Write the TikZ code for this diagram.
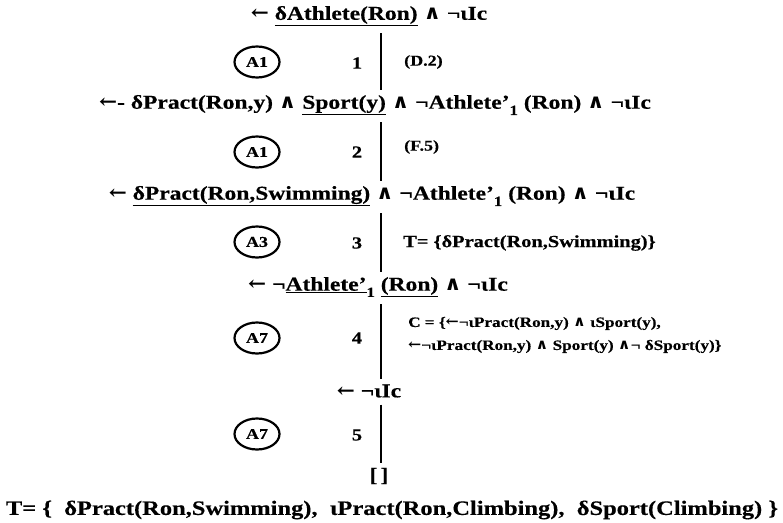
\documentclass[tikz,border=0pt]{standalone}
\usepackage{fontspec}
\setmainfont{Liberation Serif}[FakeStretch=1.2, BoldFeatures={FakeBold=0.4}]
\newfontfamily\symf{DejaVu Serif}[FakeStretch=1.1]
\usetikzlibrary{shapes.geometric}
\newcommand{\myarr}{{\symf ←}}
\newcommand{\myand}{{\symf ∧}}
\newcommand{\subone}{\raisebox{-0.7ex}{\fontsize{14}{14}\selectfont 1}}
\begin{document}
\begin{tikzpicture}[x=1pt,y=-1pt,
  mainline/.style={font=\fontsize{19.6}{23}\selectfont\bfseries, inner sep=1pt},
  rulelabel/.style={draw, ellipse, line width=2.2pt, minimum width=45pt, minimum height=31pt, inner sep=0pt, font=\fontsize{15}{17}\selectfont\bfseries},
  stepno/.style={font=\fontsize{17}{20}\selectfont\bfseries, inner sep=1pt},
  note/.style={font=\fontsize{15}{18}\selectfont\bfseries, anchor=west, inner sep=1pt},
  smallnote/.style={font=\fontsize{14.3}{23}\selectfont\bfseries, anchor=west, inner sep=1pt, align=left},
  bar/.style={line width=2.4pt, shorten <=6pt, shorten >=4pt}
]
\useasboundingbox (0,0) rectangle (783,522);
\coordinate (ax) at (381,0);

\node[mainline] (l1) at (369,16) {\myarr{} \underline{δAthlete(Ron)} \myand{} ¬ιIc};
\node[mainline] (l2) at (375,105) {\myarr- δPract(Ron,y) \myand{} \underline{Sport(y)} \myand{} ¬Athlete'\subone{} (Ron) \myand{} ¬ιIc};
\node[mainline] (l3) at (372,196) {\myarr{} \underline{δPract(Ron,Swimming)} \myand{} ¬Athlete'\subone{} (Ron) \myand{} ¬ιIc};
\node[mainline] (l4) at (378,287) {\myarr{} ¬\underline{Athlete'}\subone{} \underline{(Ron)} \myand{} ¬ιIc};
\node[mainline] (l5) at (369,391) {\myarr{} ¬ιIc};
\node[mainline] (l6) at (379,476) {[\,]};
\node[mainline,font=\fontsize{20.4}{24}\selectfont\bfseries] (tset) at (392,510) {T= \{~ δPract(Ron,Swimming), ~ιPract(Ron,Climbing), ~δSport(Climbing) \}};

\node[rulelabel] (c1) at (257,62) {A1};
\node[rulelabel] (c2) at (257,152) {A1};
\node[rulelabel] (c3) at (257,242) {A3};
\node[rulelabel] (c4) at (257,338) {A7};
\node[rulelabel] (c5) at (257,434) {A7};

\node[stepno] (n1) at (357,63) {1};
\node[stepno] (n2) at (357,152) {2};
\node[stepno] (n3) at (357,243) {3};
\node[stepno] (n4) at (357,338) {4};
\node[stepno] (n5) at (357,435) {5};

\node[note] (d2) at (403,62) {(D.2)};
\node[note] (f5) at (403,147) {(F.5)};
\node[note,font=\fontsize{17}{20}\selectfont\bfseries] (t3) at (402,243) {T= \{δPract(Ron,Swimming)\}};
\node[smallnote] (cset) at (407,335) {C = \{\myarr¬ιPract(Ron,y) \myand{} ιSport(y),\\ \myarr¬ιPract(Ron,y) \myand{} Sport(y) \myand¬ δSport(y)\}};

\draw[bar] (l1.south -| ax) -- (l2.north -| ax);
\draw[bar] (l2.south -| ax) -- (l3.north -| ax);
\draw[bar] (l3.south -| ax) -- (l4.north -| ax);
\draw[bar] (l4.south -| ax) -- (l5.north -| ax);
\draw[bar] (l5.south -| ax) -- (l6.north -| ax);
\end{tikzpicture}
\end{document}
